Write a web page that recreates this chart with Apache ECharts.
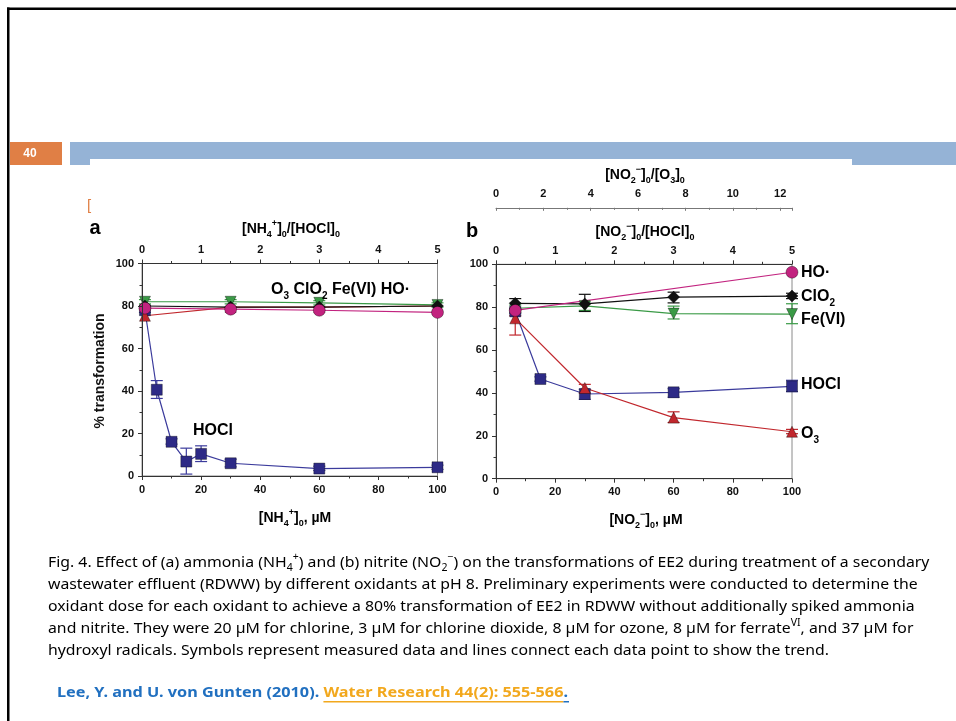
<!DOCTYPE html>
<html><head><meta charset="utf-8">
<script src="https://cdn.jsdelivr.net/npm/echarts@6/dist/echarts.min.js"></script>
<style>html,body{margin:0;padding:0;background:#fff}#c{width:956px;height:721px}</style>
</head><body><div id="c"></div>
<script>
// ---------- panel a: ammonia ----------
const nh4Conc      = [1, 5, 10, 15, 20, 30, 60, 100];
const nh4HOCl      = [78, 40.6, 16.1, 6.8, 10.4, 6.0, 3.5, 4.1];
const nh4HOClErr   = [[77, 79], [36.5, 44.9], [15, 17.5], [0.9, 13.1], [6.8, 14.2], [4.3, 7.9], [2.6, 4.6], [3.1, 5.1]];
const nh4OxConc    = [1, 30, 60, 100];
const nh4O3        = [75.4, 79.5, 79.5, 80];
const nh4ClO2      = [80, 79.5, 79.5, 80];
const nh4FeVI      = [82, 82, 81.5, 80.5];
const nh4FeVIErr   = [[81, 83], [81, 83], [80.5, 82.5], [79.5, 81.5]];
const nh4HO        = [79, 78.5, 78, 77];

// ---------- panel b: nitrite ----------
const no2Conc      = [6.5, 15, 30, 60, 100];
const no2HOCl      = [78, 46.5, 39.5, 40.3, 43.1];
const no2HOClErr   = [[77, 79], [45.5, 47.5], [37, 41.7], [38, 42], [40.6, 45.9]];
const no2OxConc    = [6.5, 30, 60, 100];
const no2O3        = [74.8, 42.3, 28.5, 21.9];
const no2O3Err     = [[67, 76], [40, 44], [26.2, 31.2], [21, 23]];
const no2ClO2      = [81.8, 81.5, 84.7, 85.2];
const no2ClO2Err   = [[79.5, 84], [78, 86], [82, 87], [84, 86.5]];
const no2FeVI      = [79.5, 80.6, 77.0, 76.8];
const no2FeVIErr   = [[77.5, 81], [78.5, 82.5], [74.5, 80.5], [72.3, 81.6]];
const no2HOConc    = [6.5, 100];
const no2HO        = [78.5, 96.3];

// ---------- axis ticks ----------
const concTicks    = [0, 20, 40, 60, 80, 100];
const pctTicks     = [0, 20, 40, 60, 80, 100];
const hoclRatio    = [0, 1, 2, 3, 4, 5];
const o3Ratio      = [0, 2, 4, 6, 8, 10, 12];

const C = {
  hocl: '#2d2a86', hoclLine: '#3b3b9c',
  o3: '#c1272d', clo2: '#111111', fe: '#3a9a46', ho: '#c2237f',
  axis: '#333333', border: '#8a8a8a'
};
const AX_FONT = 'Liberation Sans, Arial, sans-serif';
const LBL = 16;

const chart = echarts.init(document.getElementById('c'), null, {renderer: 'canvas'});

function axisBase(extra) {
  return Object.assign({
    type: 'value',
    axisLine: {show: true, onZero: false, lineStyle: {color: C.axis, width: 1}},
    axisTick: {show: true, length: 4, lineStyle: {color: C.axis}},
    minorTick: {show: true, splitNumber: 2, length: 2.5, lineStyle: {color: C.axis}},
    splitLine: {show: false},
    axisLabel: {fontFamily: AX_FONT, fontWeight: 'bold', fontSize: 11, color: '#111', margin: 8}
  }, extra);
}

function lineSeries(xs, ys, color, lineColor, symbol, size, xi, yi, extra) {
  return Object.assign({
    type: 'line', xAxisIndex: xi, yAxisIndex: yi,
    data: xs.map((x, i) => [x, ys[i]]),
    symbol, symbolSize: size, showSymbol: true,
    lineStyle: {color: lineColor, width: 1.2},
    itemStyle: {color, borderColor: 'rgba(0,0,0,0.45)', borderWidth: 0.8, opacity: 1},
    z: 4, animation: false, silent: true
  }, extra || {});
}

function errorSeries(xs, errs, color, xi, yi) {
  return {
    type: 'custom', xAxisIndex: xi, yAxisIndex: yi, z: 3, animation: false, silent: true,
    data: xs.map((x, i) => [x, errs[i][0], errs[i][1]]),
    encode: {x: 0, y: [1, 2]},
    renderItem(params, api) {
      const lo = api.coord([api.value(0), api.value(1)]);
      const hi = api.coord([api.value(0), api.value(2)]);
      const w = 6;
      const style = {stroke: color, lineWidth: 1.2};
      return {type: 'group', children: [
        {type: 'line', shape: {x1: lo[0], y1: lo[1], x2: hi[0], y2: hi[1]}, style},
        {type: 'line', shape: {x1: lo[0] - w, y1: lo[1], x2: lo[0] + w, y2: lo[1]}, style},
        {type: 'line', shape: {x1: hi[0] - w, y1: hi[1], x2: hi[0] + w, y2: hi[1]}, style}
      ]};
    }
  };
}

// rich-text styles for chemical notation
function richStyles(size, color, family, weight) {
  const f = family || AX_FONT, w = weight || 'bold';
  return {
    m:   {fontFamily: f, fontWeight: w, fontSize: size, color, lineHeight: size + 6},
    sub: {fontFamily: f, fontWeight: w, fontSize: Math.round(size * 0.65), color, lineHeight: Math.round(size * 0.65), verticalAlign: 'bottom'},
    sup: {fontFamily: f, fontWeight: w, fontSize: Math.round(size * 0.65), color, lineHeight: Math.round(size * 0.65), verticalAlign: 'top'}
  };
}
function rtext(x, y, text, size, color, align, extra) {
  return Object.assign({
    type: 'text', x, y, z: 20, silent: true,
    style: {text, rich: richStyles(size, color), align: align || 'center', verticalAlign: 'middle'}
  }, extra || {});
}

// caption
const capFont = 'Noto Sans, sans-serif';
const capSize = 15;
const capLines = [
  '{m|Fig. 4. Effect of (a) ammonia (NH}{sub|4}{sup|+}{m|) and (b) nitrite (NO}{sub|2}{sup|\u2212}{m|) on the transformations of EE2 during treatment of a secondary}',
  '{m|wastewater effluent (RDWW) by different oxidants at pH 8. Preliminary experiments were conducted to determine the}',
  '{m|oxidant dose for each oxidant to achieve a 80% transformation of EE2 in RDWW without additionally spiked ammonia}',
  '{m|and nitrite. They were 20 \u00b5M for chlorine, 3 \u00b5M for chlorine dioxide, 8 \u00b5M for ozone, 8 \u00b5M for ferrate}{sup|VI}{m|, and 37 \u00b5M for}',
  '{m|hydroxyl radicals. Symbols represent measured data and lines connect each data point to show the trend.}'
];
const measureCtx = document.createElement('canvas').getContext('2d');
measureCtx.font = capSize + 'px ' + capFont;
const capScale = 781 / measureCtx.measureText('hydroxyl radicals. Symbols represent measured data and lines connect each data point to show the trend.').width;

const citeFont = 'bold 14px Noto Sans, sans-serif';
measureCtx.font = citeFont;
const citeA = 'Lee, Y. and U. von Gunten (2010). ';
const citeB = 'Water Research 44(2): 555-566';
const citeC = '.';
const wA = measureCtx.measureText(citeA).width, wB = measureCtx.measureText(citeB).width, wC = measureCtx.measureText(citeC).width;
const citeScale = (568 - 57) / (wA + wB + wC);

const graphics = [
  // slide frame
  {type: 'rect', shape: {x: 7, y: 7.5, width: 949, height: 2.5}, style: {fill: '#000'}, z: 1, silent: true},
  {type: 'rect', shape: {x: 7, y: 7.5, width: 2.5, height: 714}, style: {fill: '#000'}, z: 1, silent: true},
  // header bars
  {type: 'rect', shape: {x: 10, y: 142, width: 52, height: 23}, style: {fill: '#e07f45'}, z: 1, silent: true},
  {type: 'rect', shape: {x: 70, y: 142, width: 886, height: 23}, style: {fill: '#95b3d6'}, z: 1, silent: true},
  {type: 'rect', shape: {x: 90, y: 159, width: 762, height: 380}, style: {fill: '#ffffff'}, z: 2, silent: true},
  {type: 'text', x: 30, y: 153.5, z: 5, silent: true,
   style: {text: '40', font: 'bold 12px Liberation Sans, Arial, sans-serif', fill: '#fff', align: 'center', verticalAlign: 'middle'}},
  {type: 'text', x: 89, y: 206, z: 5, silent: true,
   style: {text: '[', font: '15px Liberation Sans, Arial, sans-serif', fill: '#e07f45', align: 'center', verticalAlign: 'middle'}},
  // panel letters
  {type: 'text', x: 95, y: 228, z: 20, silent: true,
   style: {text: 'a', font: 'bold 20px Liberation Sans, Arial, sans-serif', fill: '#000', align: 'center', verticalAlign: 'middle'}},
  {type: 'text', x: 472, y: 231, z: 20, silent: true,
   style: {text: 'b', font: 'bold 20px Liberation Sans, Arial, sans-serif', fill: '#000', align: 'center', verticalAlign: 'middle'}},
  // y title
  {type: 'text', x: 100, y: 371, rotation: Math.PI / 2, z: 20, silent: true,
   style: {text: '% transformation', font: 'bold 14px Liberation Sans, Arial, sans-serif', fill: '#111', align: 'center', verticalAlign: 'middle'}},
  // axis titles, panel a
  rtext(291, 229, '{m|[NH}{sub|4}{sup|+}{m|]}{sub|0}{m|/[HOCl]}{sub|0}', 14, '#3a3a8c'),
  rtext(295, 518, '{m|[NH}{sub|4}{sup|+}{m|]}{sub|0}{m|, \u00b5M}', 14, '#111'),
  // axis titles, panel b
  rtext(645, 175, '{m|[NO}{sub|2}{sup|\u2212}{m|]}{sub|0}{m|/[O}{sub|3}{m|]}{sub|0}', 14, '#c1272d'),
  rtext(645, 232, '{m|[NO}{sub|2}{sup|\u2212}{m|]}{sub|0}{m|/[HOCl]}{sub|0}', 14, '#3a3a8c'),
  rtext(646, 520, '{m|[NO}{sub|2}{sup|\u2212}{m|]}{sub|0}{m|, \u00b5M}', 14, '#111'),
  // series labels, panel a
  {type: 'text', x: 271, y: 290, z: 20, silent: true, style: {
    text: '{r|O}{rs|3}{k| ClO}{ks|2}{g| Fe(VI)}{p| HO\u00b7}', align: 'left', verticalAlign: 'middle',
    rich: {
      r: {fontFamily: AX_FONT, fontWeight: 'bold', fontSize: LBL, color: C.o3, lineHeight: 22},
      rs: {fontFamily: AX_FONT, fontWeight: 'bold', fontSize: 10, color: C.o3, lineHeight: 10, verticalAlign: 'bottom'},
      k: {fontFamily: AX_FONT, fontWeight: 'bold', fontSize: LBL, color: '#111', lineHeight: 22},
      ks: {fontFamily: AX_FONT, fontWeight: 'bold', fontSize: 10, color: '#111', lineHeight: 10, verticalAlign: 'bottom'},
      g: {fontFamily: AX_FONT, fontWeight: 'bold', fontSize: LBL, color: C.fe, lineHeight: 22},
      p: {fontFamily: AX_FONT, fontWeight: 'bold', fontSize: LBL, color: C.ho, lineHeight: 22}
    }}},
  rtext(193, 431, '{m|HOCl}', LBL, C.hocl, 'left'),
  // series labels, panel b
  rtext(801, 273, '{m|HO\u00b7}', LBL, C.ho, 'left'),
  rtext(801, 297, '{m|ClO}{sub|2}', LBL, '#111', 'left'),
  rtext(801, 320, '{m|Fe(VI)}', LBL, C.fe, 'left'),
  rtext(801, 385, '{m|HOCl}', LBL, C.hocl, 'left'),
  rtext(801, 434, '{m|O}{sub|3}', LBL, C.o3, 'left'),
  // citation
  {type: 'text', x: 57, y: 693, z: 20, silent: true, scaleX: citeScale,
   style: {text: citeA, font: citeFont, fill: '#2170c0', align: 'left', verticalAlign: 'middle'}},
  {type: 'text', x: 57 + wA * citeScale, y: 693, z: 20, silent: true, scaleX: citeScale,
   style: {text: citeB, font: citeFont, fill: '#f2a81d', align: 'left', verticalAlign: 'middle'}},
  {type: 'text', x: 57 + (wA + wB) * citeScale, y: 693, z: 20, silent: true, scaleX: citeScale,
   style: {text: citeC, font: citeFont, fill: '#2170c0', align: 'left', verticalAlign: 'middle'}},
  {type: 'rect', z: 20, silent: true, shape: {x: 57 + wA * citeScale, y: 701, width: wB * citeScale, height: 1.5}, style: {fill: '#f2a81d'}},
  {type: 'rect', z: 20, silent: true, shape: {x: 57 + (wA + wB) * citeScale, y: 701, width: wC * citeScale + 1, height: 1.5}, style: {fill: '#2170c0'}}
];
capLines.forEach((t, i) => {
  graphics.push({
    type: 'text', x: 48, y: 563 + i * 22, z: 20, silent: true, scaleX: capScale,
    style: {text: t, align: 'left', verticalAlign: 'middle', rich: richStyles(capSize, '#111', capFont, 'normal')}
  });
});

const option = {
  backgroundColor: '#ffffff',
  animation: false,
  grid: [
    {left: 142, top: 263.5, width: 295.5, height: 212.5, show: true, borderColor: C.border, borderWidth: 1, backgroundColor: 'transparent', z: 3},
    {left: 496, top: 264.3, width: 296, height: 214.4, show: true, borderColor: C.border, borderWidth: 1, backgroundColor: 'transparent', z: 3}
  ],
  xAxis: [
    axisBase({gridIndex: 0, position: 'bottom', min: concTicks[0], max: concTicks[concTicks.length - 1], interval: concTicks[1] - concTicks[0], z: 5}),
    axisBase({gridIndex: 0, position: 'top', min: hoclRatio[0], max: hoclRatio[hoclRatio.length - 1], interval: 1, z: 5}),
    axisBase({gridIndex: 1, position: 'bottom', min: concTicks[0], max: concTicks[concTicks.length - 1], interval: concTicks[1] - concTicks[0], z: 5}),
    axisBase({gridIndex: 1, position: 'top', min: hoclRatio[0], max: hoclRatio[hoclRatio.length - 1], interval: 1, z: 5}),
    axisBase({gridIndex: 1, position: 'top', offset: 56.5, min: o3Ratio[0], max: 12.5, interval: 2, z: 5,
      axisLine: {show: true, onZero: false, lineStyle: {color: '#777', width: 1}},
      axisTick: {show: true, length: 3, inside: true, lineStyle: {color: '#777'}},
      minorTick: {show: true, splitNumber: 2, length: 2, lineStyle: {color: '#777'}},
      axisLabel: {fontFamily: AX_FONT, fontWeight: 'bold', fontSize: 11, color: '#111', margin: 8,
        formatter: v => (o3Ratio.indexOf(v) >= 0 ? String(v) : '')}})
  ],
  yAxis: [
    axisBase({gridIndex: 0, min: pctTicks[0], max: pctTicks[pctTicks.length - 1], interval: 20, z: 5}),
    axisBase({gridIndex: 1, min: pctTicks[0], max: pctTicks[pctTicks.length - 1], interval: 20, z: 5})
  ],
  graphic: {elements: graphics},
  series: [
    // panel a
    errorSeries(nh4OxConc, nh4FeVIErr, C.fe, 0, 0),
    errorSeries(nh4Conc, nh4HOClErr, C.hoclLine, 0, 0),
    lineSeries(nh4Conc, nh4HOCl, C.hocl, C.hoclLine, 'rect', 11, 0, 0),
    lineSeries(nh4OxConc, nh4O3, C.o3, C.o3, 'triangle', 11, 0, 0),
    lineSeries(nh4OxConc, nh4FeVI, C.fe, C.fe, 'triangle', 11, 0, 0, {symbolRotate: 180}),
    lineSeries(nh4OxConc, nh4ClO2, C.clo2, C.clo2, 'diamond', 12, 0, 0),
    lineSeries(nh4OxConc, nh4HO, C.ho, C.ho, 'circle', 12, 0, 0),
    // panel b
    errorSeries(no2OxConc, no2FeVIErr, C.fe, 2, 1),
    errorSeries(no2OxConc, no2ClO2Err, C.clo2, 2, 1),
    errorSeries(no2OxConc, no2O3Err, C.o3, 2, 1),
    errorSeries(no2Conc, no2HOClErr, C.hoclLine, 2, 1),
    lineSeries(no2Conc, no2HOCl, C.hocl, C.hoclLine, 'rect', 11, 2, 1),
    lineSeries(no2OxConc, no2FeVI, C.fe, C.fe, 'triangle', 11, 2, 1, {symbolRotate: 180}),
    lineSeries(no2OxConc, no2ClO2, C.clo2, C.clo2, 'diamond', 12, 2, 1),
    lineSeries(no2OxConc, no2O3, C.o3, C.o3, 'triangle', 11, 2, 1),
    lineSeries(no2HOConc, no2HO, C.ho, C.ho, 'circle', 12, 2, 1)
  ]
};
chart.setOption(option);
</script>
</body></html>
